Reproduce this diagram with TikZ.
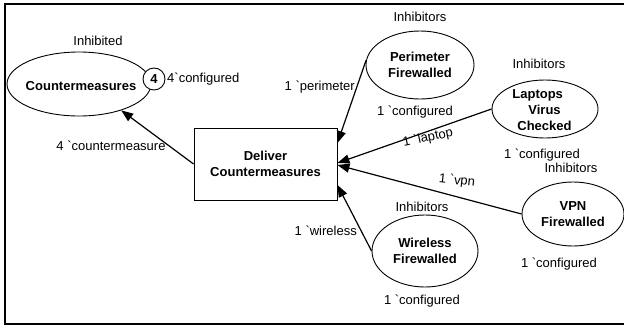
\documentclass[tikz,border=0pt]{standalone}
\usepackage{fontspec}
\setmainfont{Liberation Sans}
\usetikzlibrary{arrows.meta,shapes.geometric,shadows}
\newcommand{\gravech}{\textasciigrave}
\begin{document}
\begin{tikzpicture}[x=1pt,y=-1pt,
  every node/.style={font=\fontsize{13}{16}\selectfont},
  place/.style={ellipse,draw,line width=0.9pt,fill=white,inner sep=0pt,align=center,font=\fontsize{13}{16}\selectfont\bfseries},
  ptext/.style={inner sep=0pt,align=center,font=\fontsize{13}{16}\selectfont\bfseries},
  trans/.style={rectangle,draw,line width=0.9pt,fill=white,align=center,font=\fontsize{13}{16}\selectfont\bfseries,drop shadow={shadow xshift=1.2pt,shadow yshift=-1.2pt,fill=gray!70,opacity=1}},
  arc/.style={line width=1.2pt,-{Triangle[length=12pt,width=9pt]}},
  lbl/.style={inner sep=0pt},
  token/.style={circle,draw,line width=0.9pt,fill=white,inner sep=0pt,minimum size=22pt,font=\fontsize{13}{16}\selectfont\bfseries}]
\useasboundingbox (0,0) rectangle (624,327);
\draw[line width=1.2pt] (624,4) -- (5,4) -- (5,324) -- (624,324);

% places
\node[place,minimum width=144pt,minimum height=64pt] (cm) at (79,84) {};
\node[ptext] (cmtxt) at (81,86) {Countermeasures};
\node[token] (tok) at (154,79) {4};
\node[place,minimum width=108pt,minimum height=68pt] (per) at (420,65) {Perimeter\\Firewalled};
\node[place,minimum width=106pt,minimum height=58pt] (lap) at (545,109) {};
\node[ptext,align=left] (laptxt) at (542,110) {Laptops\\\hspace{16pt}Virus\\\hspace{5pt}Checked};
\node[place,minimum width=102pt,minimum height=64pt] (vpn) at (573,214) {VPN\\Firewalled};
\node[place,minimum width=106pt,minimum height=72pt] (wir) at (425,251) {Wireless\\Firewalled};

% transition
\node[trans,minimum width=143pt,minimum height=72pt] (del) at (265.5,164) {Deliver\\Countermeasures};

% arcs
\draw[arc] (del.west) -- (cm.-32);
\draw[arc] (per.175) -- ([yshift=21pt]del.east);
\draw[arc] (lap.west) -- ([yshift=1pt]del.east);
\draw[arc] (vpn.west) -- ([yshift=-1pt]del.east);
\draw[arc] (wir.west) -- ([yshift=-21pt]del.east);

% labels
\node[lbl] (cmlab) at (98,41) {Inhibited};
\node[lbl,anchor=west] (cmcfg) at (167,79) {4\gravech configured};
\node[lbl] (cmin) at (111,146) {4 \gravech countermeasure};

\node[lbl] (perlab) at (420,17) {Inhibitors};
\node[lbl] (percfg) at (415,112) {1 \gravech configured};
\node[lbl,anchor=east] (perin) at (355,87) {1 \gravech perimeter};

\node[lbl] (laplab) at (539,64) {Inhibitors};
\node[lbl] (lapcfg) at (542,155) {1 \gravech configured};
\node[lbl,rotate=12] (lapin) at (428,138) {1 \gravech laptop};

\node[lbl] (vpnlab) at (571,168) {Inhibitors};
\node[lbl] (vpncfg) at (559,264) {1 \gravech configured};
\node[lbl,rotate=-6] (vpnin) at (457,181) {1 \gravech vpn};

\node[lbl] (wirlab) at (422,207) {Inhibitors};
\node[lbl] (wircfg) at (422,301) {1 \gravech configured};
\node[lbl,anchor=east] (wirin) at (357,231) {1 \gravech wireless};
\end{tikzpicture}
\end{document}
